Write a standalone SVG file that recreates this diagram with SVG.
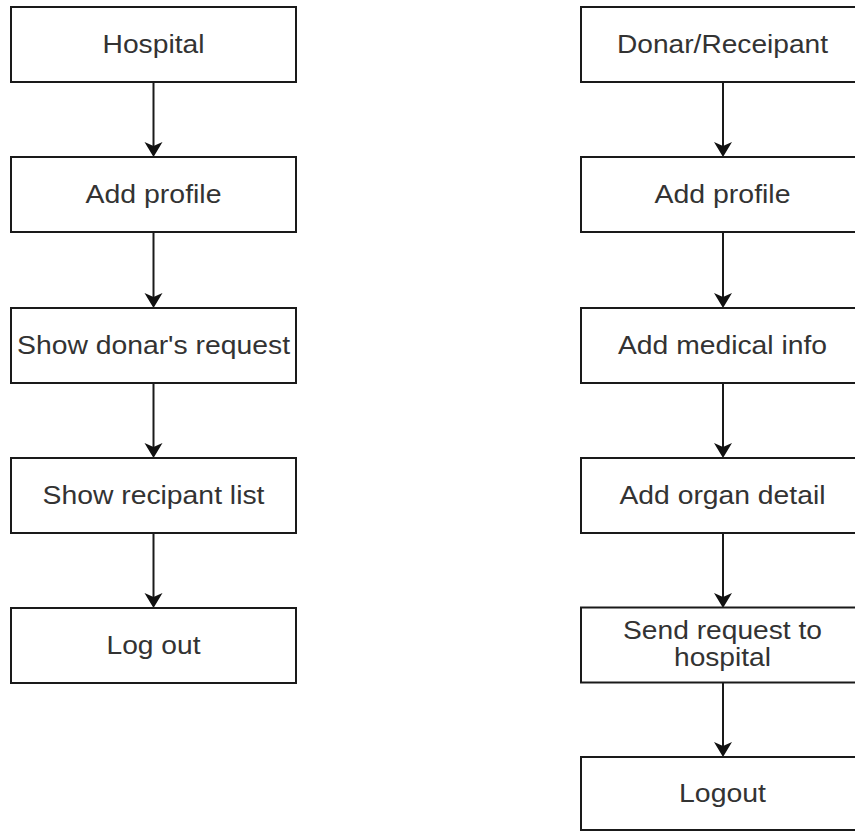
<svg xmlns="http://www.w3.org/2000/svg" width="855" height="831" viewBox="0 0 855 831">
<style>
.box{fill:#fff;stroke:#1a1a1a;stroke-width:2}
.lbl{font-family:"Liberation Sans",Arial,sans-serif;font-size:25px;fill:#333;text-anchor:middle}
.edge{stroke:#1a1a1a;stroke-width:2;fill:none}
.head{fill:#111;stroke:none}
</style>
<rect width="855" height="831" fill="#fff"/>
<g id="connectors">
<line class="edge" x1="153.5" y1="82" x2="153.5" y2="146"/>
<path class="head" d="M153.5,157 L144.5,142 L153.5,146 L162.5,142 Z"/>
<line class="edge" x1="153.5" y1="232" x2="153.5" y2="297"/>
<path class="head" d="M153.5,308 L144.5,293 L153.5,297 L162.5,293 Z"/>
<line class="edge" x1="153.5" y1="383" x2="153.5" y2="447"/>
<path class="head" d="M153.5,458 L144.5,443 L153.5,447 L162.5,443 Z"/>
<line class="edge" x1="153.5" y1="533" x2="153.5" y2="597"/>
<path class="head" d="M153.5,608 L144.5,593 L153.5,597 L162.5,593 Z"/>
<line class="edge" x1="723" y1="82" x2="723" y2="146"/>
<path class="head" d="M723,157 L714,142 L723,146 L732,142 Z"/>
<line class="edge" x1="723" y1="232" x2="723" y2="297"/>
<path class="head" d="M723,308 L714,293 L723,297 L732,293 Z"/>
<line class="edge" x1="723" y1="383" x2="723" y2="447"/>
<path class="head" d="M723,458 L714,443 L723,447 L732,443 Z"/>
<line class="edge" x1="723" y1="533" x2="723" y2="597"/>
<path class="head" d="M723,608 L714,593 L723,597 L732,593 Z"/>
<line class="edge" x1="723" y1="682" x2="723" y2="746"/>
<path class="head" d="M723,757 L714,742 L723,746 L732,742 Z"/>
</g>
<g id="hospital"><rect class="box" x="11" y="7" width="285" height="75"/><text class="lbl" x="153.5" y="52.5" textLength="102" lengthAdjust="spacingAndGlyphs">Hospital</text></g>
<g id="h-add-profile"><rect class="box" x="11" y="157" width="285" height="75"/><text class="lbl" x="153.5" y="203" textLength="136" lengthAdjust="spacingAndGlyphs">Add profile</text></g>
<g id="h-show-donar"><rect class="box" x="11" y="308" width="285" height="75"/><text class="lbl" x="153.5" y="354" textLength="273" lengthAdjust="spacingAndGlyphs">Show donar's request</text></g>
<g id="h-show-recipant"><rect class="box" x="11" y="458" width="285" height="75"/><text class="lbl" x="153.5" y="504" textLength="222" lengthAdjust="spacingAndGlyphs">Show recipant list</text></g>
<g id="h-logout"><rect class="box" x="11" y="608" width="285" height="75"/><text class="lbl" x="153.5" y="653.5" textLength="94" lengthAdjust="spacingAndGlyphs">Log out</text></g>
<g id="donar"><rect class="box" x="581" y="7" width="285" height="75"/><text class="lbl" x="722.5" y="52.5" textLength="211" lengthAdjust="spacingAndGlyphs">Donar/Receipant</text></g>
<g id="d-add-profile"><rect class="box" x="581" y="157" width="285" height="75"/><text class="lbl" x="722.5" y="203" textLength="136" lengthAdjust="spacingAndGlyphs">Add profile</text></g>
<g id="d-medical"><rect class="box" x="581" y="308" width="285" height="75"/><text class="lbl" x="722.5" y="354" textLength="209" lengthAdjust="spacingAndGlyphs">Add medical info</text></g>
<g id="d-organ"><rect class="box" x="581" y="458" width="285" height="75"/><text class="lbl" x="722.5" y="504" textLength="206" lengthAdjust="spacingAndGlyphs">Add organ detail</text></g>
<g id="d-send"><rect class="box" x="581" y="607.5" width="285" height="75"/><text class="lbl" x="722.5" y="638.5" textLength="199" lengthAdjust="spacingAndGlyphs">Send request to</text><text class="lbl" x="722.5" y="665.5" textLength="97" lengthAdjust="spacingAndGlyphs">hospital</text></g>
<g id="d-logout"><rect class="box" x="581" y="757" width="285" height="73"/><text class="lbl" x="722.5" y="802" textLength="87" lengthAdjust="spacingAndGlyphs">Logout</text></g>
</svg>
